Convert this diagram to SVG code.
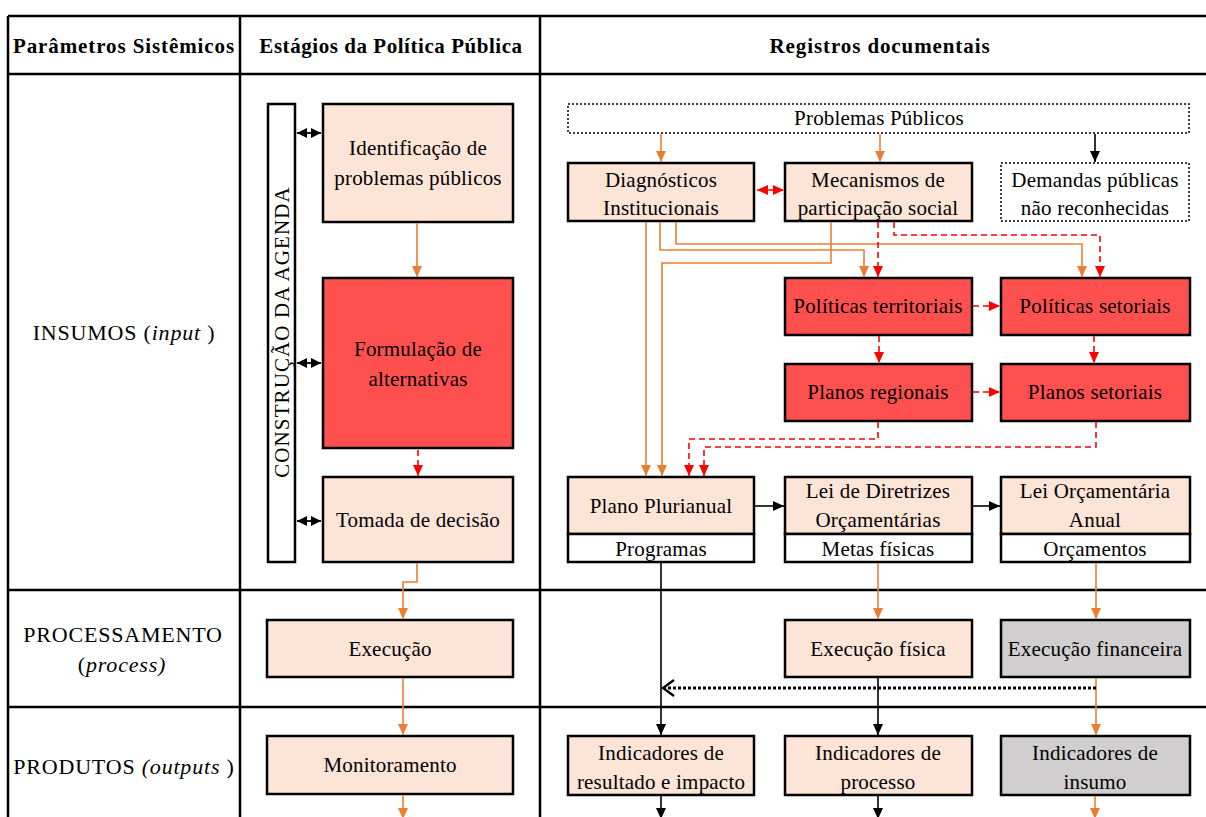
<svg xmlns="http://www.w3.org/2000/svg" width="1206" height="817" viewBox="0 0 1206 817">
<style>
text{font-family:"Liberation Serif","Times New Roman",serif;font-size:21px;fill:#000;text-anchor:middle;letter-spacing:0.2px}
.h{font-weight:bold;letter-spacing:0.9px}
.h2{letter-spacing:0.55px}
.lb{font-size:22px;letter-spacing:0.8px}
.vt{letter-spacing:1.1px}
.tbl{stroke:#000;stroke-width:2.5;fill:none}
.bx{stroke:#000;stroke-width:2.5}
.pe{fill:#FCE4D6}
.rd{fill:#FF5050}
.gy{fill:#D0CECE}
.wh{fill:#fff}
.dot{fill:#fff;stroke:#000;stroke-width:1.5;stroke-dasharray:2 2}
.o{stroke:#ED7D31;stroke-width:1.6;fill:none;marker-end:url(#ao)}
.r{stroke:#FF0000;stroke-width:1.6;fill:none;stroke-dasharray:6 4;marker-end:url(#ar)}
.k{stroke:#000;stroke-width:1.6;fill:none;marker-end:url(#ak)}
.d2{stroke:#000;stroke-width:1.8;fill:none;marker-start:url(#aks);marker-end:url(#ak2)}
</style>
<defs>
<marker id="ao" markerUnits="userSpaceOnUse" markerWidth="12" markerHeight="12" refX="11" refY="6" orient="auto"><path d="M0,1 L11,6 L0,11 Z" fill="#ED7D31"/></marker>
<marker id="ar" markerUnits="userSpaceOnUse" markerWidth="12" markerHeight="12" refX="11" refY="6" orient="auto"><path d="M0,1 L11,6 L0,11 Z" fill="#FF0000"/></marker>
<marker id="ars" markerUnits="userSpaceOnUse" markerWidth="12" markerHeight="12" refX="0" refY="6" orient="auto"><path d="M11,1 L0,6 L11,11 Z" fill="#FF0000"/></marker>
<marker id="ak" markerUnits="userSpaceOnUse" markerWidth="12" markerHeight="12" refX="11" refY="6" orient="auto"><path d="M0,1 L11,6 L0,11 Z" fill="#000"/></marker>
<marker id="ak2" markerUnits="userSpaceOnUse" markerWidth="12" markerHeight="12" refX="10" refY="6" orient="auto"><path d="M0,1 L10,6 L0,11 Z" fill="#000"/></marker>
<marker id="aks" markerUnits="userSpaceOnUse" markerWidth="12" markerHeight="12" refX="0" refY="6" orient="auto"><path d="M10,1 L0,6 L10,11 Z" fill="#000"/></marker>
<marker id="chev" markerUnits="userSpaceOnUse" markerWidth="14" markerHeight="18" refX="12" refY="9" orient="auto"><path d="M1,1 L12,9 L1,17" fill="none" stroke="#000" stroke-width="2.4"/></marker>
</defs>

<g id="table">
<path class="tbl" d="M8,16 H1206 M8,74 H1206 M8,590 H1206 M8,707 H1206 M8,16 V817 M240,16 V817 M540,16 V817"/>
<text class="h" x="124" y="53">Parâmetros Sistêmicos</text>
<text class="h h2" x="391" y="53">Estágios da Política Pública</text>
<text class="h" x="880" y="53">Registros documentais</text>
<text class="lb" x="124" y="340">INSUMOS (<tspan font-style="italic">input</tspan> )</text>
<text class="lb" x="123" y="642">PROCESSAMENTO</text>
<text class="lb" x="122" y="672">(<tspan font-style="italic">process)</tspan></text>
<text class="lb" x="124" y="774">PRODUTOS <tspan font-style="italic">(outputs</tspan> )</text>
</g>

<g id="agenda"><rect class="bx wh" x="268" y="104" width="27" height="458"/><text class="vt" transform="translate(289,332) rotate(-90)">CONSTRUÇÃO DA AGENDA</text></g>
<g id="identificacao"><rect class="bx pe" x="323" y="104" width="190" height="118"/><text x="418" y="155">Identificação de</text><text x="418" y="185">problemas públicos</text></g>
<g id="formulacao"><rect class="bx rd" x="323" y="278" width="190" height="170"/><text x="418" y="356">Formulação de</text><text x="418" y="386">alternativas</text></g>
<g id="tomada"><rect class="bx pe" x="323" y="477" width="190" height="85"/><text x="418" y="527">Tomada de decisão</text></g>
<g id="execucao"><rect class="bx pe" x="267" y="620" width="246" height="57"/><text x="390" y="656">Execução</text></g>
<g id="monitoramento"><rect class="bx pe" x="267" y="736" width="246" height="58"/><text x="390" y="772">Monitoramento</text></g>

<g id="problemas"><rect class="dot" x="568" y="104" width="621" height="29"/><text x="879" y="125">Problemas Públicos</text></g>
<g id="diagnosticos"><rect class="bx pe" x="568" y="163" width="186" height="58"/><text x="661" y="187">Diagnósticos</text><text x="661" y="215">Institucionais</text></g>
<g id="mecanismos"><rect class="bx pe" x="785" y="163" width="187" height="58"/><text x="878" y="187">Mecanismos de</text><text x="878" y="215">participação social</text></g>
<g id="demandas"><rect class="dot" x="1001" y="163" width="188" height="58"/><text x="1095" y="187">Demandas públicas</text><text x="1095" y="215">não reconhecidas</text></g>
<g id="pol-terr"><rect class="bx rd" x="785" y="278" width="187" height="57"/><text x="878" y="313">Políticas territoriais</text></g>
<g id="pol-set"><rect class="bx rd" x="1001" y="278" width="189" height="57"/><text x="1095" y="313">Políticas setoriais</text></g>
<g id="plan-reg"><rect class="bx rd" x="785" y="364" width="187" height="57"/><text x="878" y="399">Planos regionais</text></g>
<g id="plan-set"><rect class="bx rd" x="1001" y="364" width="189" height="57"/><text x="1095" y="399">Planos setoriais</text></g>
<g id="ppa"><rect class="bx pe" x="568" y="477" width="186" height="57"/><rect class="bx wh" x="568" y="534" width="186" height="28"/><text x="661" y="513">Plano Plurianual</text><text x="661" y="556">Programas</text></g>
<g id="ldo"><rect class="bx pe" x="785" y="477" width="187" height="57"/><rect class="bx wh" x="785" y="534" width="187" height="28"/><text x="878" y="498">Lei de Diretrizes</text><text x="878" y="527">Orçamentárias</text><text x="878" y="556">Metas físicas</text></g>
<g id="loa"><rect class="bx pe" x="1001" y="477" width="189" height="57"/><rect class="bx wh" x="1001" y="534" width="189" height="28"/><text x="1095" y="498">Lei Orçamentária</text><text x="1095" y="527">Anual</text><text x="1095" y="556">Orçamentos</text></g>
<g id="exec-fisica"><rect class="bx pe" x="785" y="620" width="187" height="57"/><text x="878" y="656">Execução física</text></g>
<g id="exec-fin"><rect class="bx gy" x="1001" y="620" width="189" height="57"/><text x="1095" y="656">Execução financeira</text></g>
<g id="ind-res"><rect class="bx pe" x="568" y="736" width="186" height="59"/><text x="661" y="760">Indicadores de</text><text x="661" y="789">resultado e impacto</text></g>
<g id="ind-proc"><rect class="bx pe" x="785" y="736" width="187" height="59"/><text x="878" y="760">Indicadores de</text><text x="878" y="789">processo</text></g>
<g id="ind-ins"><rect class="bx gy" x="1001" y="736" width="189" height="59"/><text x="1095" y="760">Indicadores de</text><text x="1095" y="789">insumo</text></g>

<g id="connectors">
<path class="d2" d="M297,133 H321"/>
<path class="d2" d="M297,363 H321"/>
<path class="d2" d="M297,521 H321"/>
<path class="o" d="M417,223 V277"/>
<path class="r" d="M418,450 V476"/>
<path class="o" d="M417,563 V582 H403 V619"/>
<path class="o" d="M403,678 V735"/>
<path class="o" d="M403,795 V819"/>

<path class="o" d="M661,134 V162"/>
<path class="o" d="M880,134 V162"/>
<path class="k" d="M1095,134 V162"/>
<path class="r" d="M757,190 H784" style="marker-start:url(#ars)"/>
<path class="o" d="M646,222 V476"/>
<path class="o" d="M660,222 V250 H864 V277"/>
<path class="o" d="M676,222 V244 H1082 V277"/>
<path class="o" d="M831,222 V263 H662 V476"/>
<path class="r" d="M878,222 V277"/>
<path class="r" d="M894,222 V235 H1100 V277"/>
<path class="r" d="M973,306 H1000"/>
<path class="r" d="M879,336 V363"/>
<path class="r" d="M1094,336 V363"/>
<path class="r" d="M973,392 H1000"/>
<path class="r" d="M878,422 V439 H689 V476"/>
<path class="r" d="M1096,422 V447 H704 V476"/>
<path class="k" d="M755,506 H784"/>
<path class="k" d="M973,506 H1000"/>
<path class="k" d="M661,563 V735"/>
<path class="o" d="M878,563 V619"/>
<path class="o" d="M1096,563 V619"/>
<path class="k" d="M878,678 V735"/>
<path class="o" d="M1096,678 V735"/>
<path d="M1096,688 H663" fill="none" stroke="#000" stroke-width="3" stroke-dasharray="3 2" marker-end="url(#chev)"/>
<path class="k" d="M661,796 V819"/>
<path class="k" d="M878,796 V819"/>
<path class="o" d="M1095,796 V819"/>
</g>
</svg>
